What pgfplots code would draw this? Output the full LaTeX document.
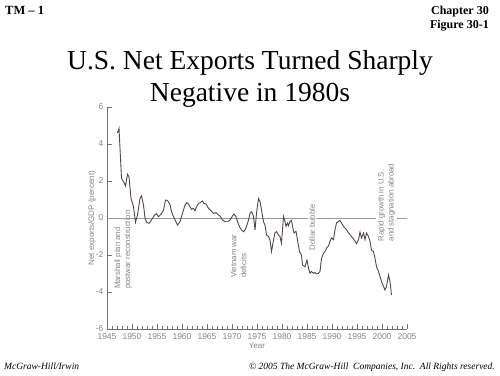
\documentclass[border=0pt]{standalone}
\usepackage{fontspec}
\setmainfont{Liberation Serif}
\newfontfamily\chartfont{Liberation Sans}
\usepackage{pgfplots}
\pgfplotsset{compat=1.18}
\definecolor{curve}{HTML}{544545}
\definecolor{axisgray}{HTML}{707070}
\definecolor{labelgray}{HTML}{858585}
\definecolor{zerogray}{HTML}{9A9A9A}

\begin{document}
\begin{tikzpicture}[x=1pt,y=1pt]
\path (0,0) rectangle (500,375);
\node[anchor=base west, inner sep=0pt, font=\bfseries\fontsize{12.5}{14}\selectfont] at (5,360) {TM -- 1};
\node[anchor=base east, inner sep=0pt, font=\bfseries\fontsize{12}{14}\selectfont] at (489,360) {Chapter 30};
\node[anchor=base east, inner sep=0pt, font=\bfseries\fontsize{12}{14}\selectfont] at (489,346) {Figure 30-1};
\node[anchor=base, inner sep=0pt, font=\fontsize{27.5}{32}\selectfont] at (250,305) {U.S. Net Exports Turned Sharply};
\node[anchor=base, inner sep=0pt, font=\fontsize{27.5}{32}\selectfont] at (250,273) {Negative in 1980s};
\node[anchor=base west, inner sep=0pt, font=\itshape\fontsize{9.5}{11}\selectfont] at (4,6) {McGraw-Hill/Irwin};
\node[anchor=base east, inner sep=0pt, font=\itshape\fontsize{9.5}{11}\selectfont] at (495,6) {© 2005 The McGraw-Hill\ \ Companies, Inc.\ \ All Rights reserved.};

\begin{axis}[at={(107pt,46pt)}, anchor=south west, scale only axis,
  width=300pt, height=222pt,
  xmin=1945, xmax=2005, ymin=-6, ymax=6,
  axis lines*=left,
  axis line style={axisgray, line width=0.8pt},
  xtick={1945,1950,...,2005}, minor x tick num=4,
  ytick={-6,-4,...,6},
  tick align=inside, major tick length=5pt, minor tick length=3pt,
  tick style={axisgray, line width=0.7pt},
  ticklabel style={font=\chartfont\fontsize{8.5}{10}\selectfont, text=labelgray,
    /pgf/number format/assume math mode=true},
  xticklabel style={/pgf/number format/1000 sep={}, yshift=-1.5pt},
  yticklabel style={yshift=0.5pt},
  xlabel={Year}, ylabel={Net exports/GDP (percent)},
  every axis y label/.style={at={(axis description cs:-0.05,0.5)}, rotate=90, anchor=center,
    font=\chartfont\fontsize{8}{10}\selectfont, text=labelgray},
  every axis x label/.style={at={(axis description cs:0.5,-0.0766)}, anchor=center,
    font=\chartfont\fontsize{8}{10}\selectfont, text=labelgray},
  clip=false,
]
\draw[zerogray, line width=0.6pt] (axis cs:1945,0) -- (axis cs:2005,0);
\node[rotate=90, anchor=west, align=left, inner sep=1pt, text=labelgray,
  font=\chartfont\fontsize{7.8}{10}\selectfont] at (axis cs:1948.2,-3.9) {Marshall plan and\\postwar reconstruction};
\node[rotate=90, anchor=west, align=left, inner sep=1pt, text=labelgray,
  font=\chartfont\fontsize{7.8}{10}\selectfont] at (axis cs:1971.3,-3.3) {Vietnam war\\deficits};
\node[rotate=90, anchor=west, align=left, inner sep=1.5pt, text=labelgray, fill=white,
  font=\chartfont\fontsize{7.8}{10}\selectfont] at (axis cs:1986.0,-1.84) {Dollar bubble};
\node[rotate=90, anchor=west, align=left, inner sep=1.5pt, text=labelgray, fill=white,
  font=\chartfont\fontsize{7.8}{10}\selectfont] at (axis cs:2000.9,-1.35) {Rapid growth in U.S.\\and stagnation abroad};
\addplot[curve, line width=0.9pt, mark=none] coordinates {
(1947.1,4.6) (1947.4,4.85) (1947.9,2.15) (1948.5,1.87) (1948.7,1.73) (1949.1,2.36)
(1949.4,2.23) (1949.8,1.06) (1950.3,0.61) (1950.7,-0.23) (1951.1,0.16) (1951.6,1.06)
(1951.9,1.2) (1952.3,0.7) (1952.6,0.0) (1952.9,-0.23) (1953.4,-0.29) (1953.9,-0.11)
(1954.5,0.16) (1954.9,0.23) (1955.3,0.07) (1955.8,0.2) (1956.3,0.43) (1956.7,0.97)
(1957.1,0.95) (1957.6,0.74) (1957.9,0.34) (1958.3,0.07) (1959.1,-0.38) (1959.6,-0.2)
(1960.1,0.25) (1960.6,0.7) (1960.9,0.83) (1961.3,0.76) (1961.6,0.61) (1961.9,0.47)
(1962.3,0.52) (1962.6,0.39) (1962.9,0.61) (1963.3,0.79) (1963.7,0.83) (1964.1,0.92)
(1964.4,0.79) (1964.8,0.76) (1965.3,0.52) (1965.7,0.43) (1966.3,0.25) (1966.8,0.29)
(1967.3,0.16) (1967.6,0.11) (1968.1,-0.11) (1968.6,-0.2) (1969.1,-0.2) (1969.6,-0.11)
(1970.1,0.11) (1970.4,0.22) (1970.8,0.07) (1971.1,-0.2) (1971.5,-0.47) (1971.9,-0.65)
(1972.3,-0.74) (1972.6,-0.65) (1972.9,-0.47) (1973.3,-0.11) (1973.6,0.25) (1973.9,0.34)
(1974.3,0.11) (1974.6,-0.65) (1974.9,0.25) (1975.3,1.06) (1975.6,0.88) (1975.9,0.43)
(1976.3,-0.2) (1976.6,-0.38) (1976.9,-0.92) (1977.3,-1.0) (1977.6,-1.19) (1977.9,-1.82)
(1978.3,-1.19) (1978.6,-0.79) (1978.9,-0.74) (1979.3,-0.92) (1979.6,-1.0) (1979.9,-1.37)
(1980.3,0.09) (1980.6,-0.18) (1980.8,-0.45) (1981.1,-0.27) (1981.3,-0.42) (1981.6,-0.18)
(1981.9,-0.13) (1982.1,-0.45) (1982.4,-0.81) (1982.8,-0.72) (1983.1,-1.18) (1983.5,-1.82)
(1983.9,-2.0) (1984.1,-2.54) (1984.6,-2.63) (1985.0,-2.27) (1985.3,-2.72) (1985.6,-2.99)
(1985.9,-2.89) (1986.3,-2.99) (1986.6,-2.95) (1986.9,-3.02) (1987.3,-2.99) (1987.6,-2.89)
(1987.9,-2.18) (1988.3,-1.91) (1988.6,-1.81) (1988.9,-1.63) (1989.3,-1.51) (1989.6,-1.26)
(1989.9,-1.08) (1990.3,-1.17) (1990.6,-0.63) (1990.9,-0.27) (1991.3,-0.18) (1991.6,-0.13)
(1991.9,-0.27) (1992.3,-0.45) (1992.6,-0.54) (1992.9,-0.63) (1993.3,-0.81) (1993.6,-0.9)
(1993.9,-1.0) (1994.3,-1.13) (1994.6,-1.26) (1994.9,-1.39) (1995.3,-1.17) (1995.6,-0.77)
(1995.9,-1.08) (1996.3,-0.81) (1996.6,-1.17) (1996.9,-0.81) (1997.3,-1.0) (1997.6,-1.26)
(1997.9,-1.75) (1998.3,-1.81) (1998.6,-2.18) (1998.9,-2.63) (1999.3,-2.89) (1999.6,-3.16)
(1999.9,-3.43) (2000.3,-3.7) (2000.6,-3.89) (2000.9,-3.7) (2001.3,-3.08) (2001.6,-3.43)
(2001.9,-4.16)
};
\end{axis}
\end{tikzpicture}
\end{document}
